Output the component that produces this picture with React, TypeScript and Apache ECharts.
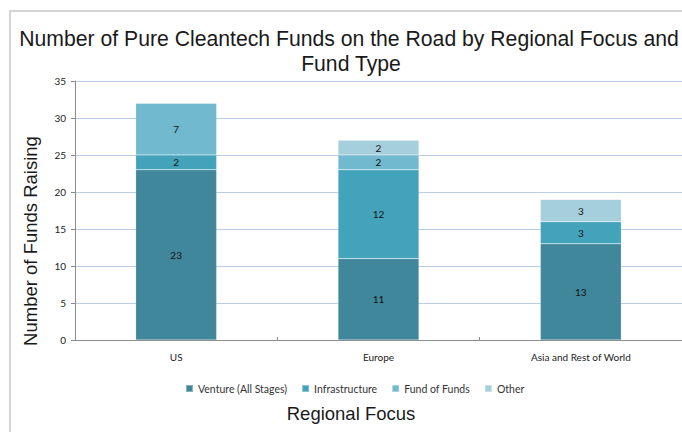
import React, { useEffect, useRef } from "react";
import * as echarts from "echarts";

const categories = ["US", "Europe", "Asia and Rest of World"];
const seriesNames = ["Venture (All Stages)", "Infrastructure", "Fund of Funds", "Other"];
const venture = [23, 11, 13];
const infrastructure = [2, 12, 3];
const fundOfFunds = [7, 2, 0];
const other = [0, 2, 3];
const colors = ["#41879c", "#43a3bb", "#70b9ce", "#a6cfdc"];
const titleLines = ["Number of Pure Cleantech Funds on the Road by Regional Focus and", "Fund Type"];

export default function App() {
  const ref = useRef<HTMLDivElement>(null);
  useEffect(() => {
    document.body.style.margin = "0";
    const chart = echarts.init(ref.current!, null, { renderer: "svg" });
    const values = [venture, infrastructure, fundOfFunds, other];
    const labelFont = "Lato, 'Liberation Sans', sans-serif";
    const headFont = "'Liberation Sans', Arial, sans-serif";
    chart.setOption({
      animation: false,
      backgroundColor: "#ffffff",
      color: colors,
      graphic: [
        {
          type: "rect",
          shape: { x: 10, y: 11, width: 720, height: 440 },
          style: { fill: "none", stroke: "#d4d4d4", lineWidth: 2 },
          z: 0,
        },
        {
          type: "text",
          x: 349,
          y: 38,
          style: {
            text: titleLines[0],
            font: "21.2px " + headFont,
            fill: "#1a1a1a",
            align: "center",
            verticalAlign: "middle",
          },
        },
        {
          type: "text",
          x: 351,
          y: 63,
          style: {
            text: titleLines[1],
            font: "21.2px " + headFont,
            fill: "#1a1a1a",
            align: "center",
            verticalAlign: "middle",
          },
        },
        {
          type: "text",
          x: 30,
          y: 241,
          rotation: Math.PI / 2,
          style: {
            text: "Number of Funds Raising",
            font: "18.5px " + headFont,
            fill: "#1a1a1a",
            align: "center",
            verticalAlign: "middle",
          },
        },
        {
          type: "text",
          x: 351,
          y: 413,
          style: {
            text: "Regional Focus",
            font: "18.5px " + headFont,
            fill: "#1a1a1a",
            align: "center",
            verticalAlign: "middle",
          },
        },
      ],
      legend: {
        data: seriesNames,
        top: 378,
        left: 180,
        itemWidth: 7,
        itemHeight: 7,
        itemGap: 14,
        icon: "rect",
        textStyle: { fontFamily: labelFont, fontSize: 10.5, color: "#333" },
      },
      grid: { left: 75, right: -7, top: 81, bottom: 92 },
      xAxis: {
        type: "category",
        data: categories,
        axisLine: { lineStyle: { color: "#8c8c8c", width: 1 } },
        axisTick: { show: true, inside: true, length: 3, lineStyle: { color: "#8c8c8c" } },
        axisLabel: { fontFamily: labelFont, fontSize: 10, color: "#222", margin: 12 },
        splitLine: { show: false },
      },
      yAxis: {
        type: "value",
        min: 0,
        max: 35,
        interval: 5,
        axisLine: { show: true, lineStyle: { color: "#8c8c8c", width: 1 } },
        axisTick: { show: true, length: 4, lineStyle: { color: "#8c8c8c" } },
        axisLabel: { fontFamily: labelFont, fontSize: 10, color: "#222", margin: 9 },
        splitLine: { lineStyle: { color: "#b9cde5", width: 1 } },
      },
      series: seriesNames.map((name, i) => ({
        name,
        type: "bar",
        stack: "total",
        barWidth: "40%",
        data: values[i],
        itemStyle: { color: colors[i], borderColor: "rgba(255,255,255,0.35)", borderWidth: 0.5 },
        label: {
          show: true,
          position: "inside",
          fontFamily: labelFont,
          fontSize: 10,
          color: "#111",
          formatter: (p: any) => (p.value ? String(p.value) : ""),
        },
      })),
    });
    return () => chart.dispose();
  }, []);
  return <div ref={ref} style={{ width: 682, height: 432 }} />;
}
